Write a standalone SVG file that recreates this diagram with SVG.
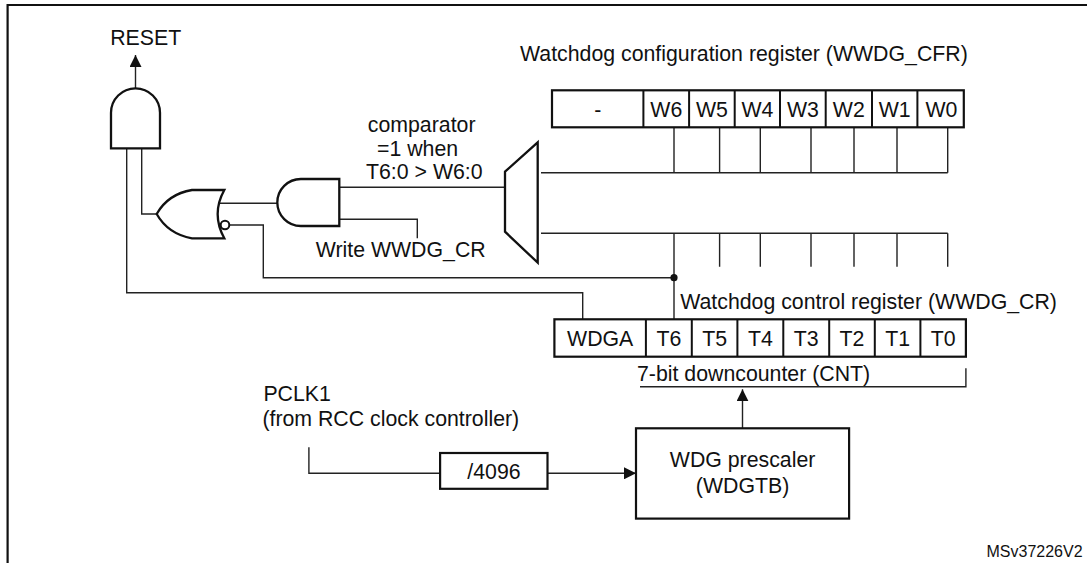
<svg xmlns="http://www.w3.org/2000/svg" width="1087" height="563" viewBox="0 0 1087 563">
<defs>
<style>
text{font-family:"Liberation Sans",Arial,sans-serif;font-size:21.3px;fill:#111}
.c{text-anchor:middle}
.gate{fill:#fff;stroke:#111;stroke-width:2.3}
.reg{fill:#fff;stroke:#111;stroke-width:2.2}
.div{stroke:#111;stroke-width:2}
.w{fill:none;stroke:#222;stroke-width:1.4}
.frame{fill:none;stroke:#111;stroke-width:2.2}
</style>
<marker id="ah" viewBox="0 0 12 12" refX="12" refY="6" markerWidth="12" markerHeight="12" markerUnits="userSpaceOnUse" orient="auto">
<path d="M0,0 L12,6 L0,12 Z" fill="#111"/>
</marker>
</defs>
<rect width="1087" height="563" fill="#fff"/>
<path class="frame" d="M7.6,563 V5 H1087"/>

<g id="connectors">
<path class="w" d="M135.5,88.3 V55" marker-end="url(#ah)"/>
<path class="w" d="M126.7,148.3 V292.7 H582.7 V319.3"/>
<path class="w" d="M141.7,148.3 V214 H156.7"/>
<path class="w" d="M219,203.3 H277.5"/>
<path class="w" d="M229.3,225 H263.3 V277.7 H674"/>
<path class="w" d="M339.3,187.3 H505"/>
<path class="w" d="M339.3,219.3 H417.3 V238.3"/>
<path class="w" d="M541,172.7 H947.7 M674,127.3 V172.7 M719.6,127.3 V172.7 M760.3,127.3 V172.7 M811,127.3 V172.7 M854,127.3 V172.7 M897,127.3 V172.7 M947.7,127.3 V172.7"/>
<path class="w" d="M541,233.3 H947.7 M674,233.3 V319.3 M719.6,233.3 V266.7 M760.3,233.3 V266.7 M811,233.3 V266.7 M854,233.3 V266.7 M897,233.3 V266.7 M947.7,233.3 V266.7"/>
<circle cx="674" cy="277.7" r="3.6" fill="#111"/>
<path class="w" d="M640,386.7 H965.9 V368.3"/>
<path class="w" d="M742.5,428.3 V389.3" marker-end="url(#ah)"/>
<path class="w" d="M308.9,447.3 V473.3 H440.1"/>
<path class="w" d="M547.5,473.3 H636" marker-end="url(#ah)"/>
</g>

<g id="reset-label">
<text x="110.2" y="45">RESET</text>
</g>

<g id="and-reset">
<path class="gate" d="M111,148.3 V112.8 A24.5,24.5 0 0 1 160,112.8 V148.3 Z"/>
</g>

<g id="or-gate">
<path class="gate" d="M224.3,190 L192,190 Q168,194 156.7,214 Q168,234 192,238.3 L224.3,238.3 Q211,214 224.3,190 Z"/>
<circle cx="225" cy="225" r="4.3" fill="#fff" stroke="#111" stroke-width="2"/>
</g>

<g id="and-compare">
<path class="gate" d="M339.3,179 H300.8 A23.5,23.5 0 0 0 300.8,226 H339.3 Z"/>
</g>

<g id="comparator">
<polygon class="gate" points="505,171.7 537.7,142.3 537.7,262.7 505,231.7"/>
<text x="367.8" y="132">comparator</text>
<text x="377" y="155.5">=1 when</text>
<text x="366" y="178.5">T6:0 &gt; W6:0</text>
</g>

<g id="write-label">
<text x="315.7" y="256.5">Write WWDG_CR</text>
</g>

<g id="wwdg-cfr">
<text x="520" y="60.5">Watchdog configuration register (WWDG_CFR)</text>
<rect class="reg" x="552" y="90.3" width="411.8" height="37"/>
<path class="div" d="M643.4,90.3 V127.3 M689.1,90.3 V127.3 M734.7,90.3 V127.3 M780,90.3 V127.3 M825.7,90.3 V127.3 M872,90.3 V127.3 M917.4,90.3 V127.3"/>
<text class="c" x="597.7" y="116.5">-</text>
<text class="c" x="666.3" y="116.5">W6</text>
<text class="c" x="711.9" y="116.5">W5</text>
<text class="c" x="757.4" y="116.5">W4</text>
<text class="c" x="802.9" y="116.5">W3</text>
<text class="c" x="848.8" y="116.5">W2</text>
<text class="c" x="894.7" y="116.5">W1</text>
<text class="c" x="941.5" y="116.5">W0</text>
</g>

<g id="wwdg-cr">
<text x="680.2" y="309">Watchdog control register (WWDG_CR)</text>
<rect class="reg" x="554.4" y="319.3" width="411.5" height="37.4"/>
<path class="div" d="M645.9,319.3 V356.7 M691.8,319.3 V356.7 M737.4,319.3 V356.7 M783.3,319.3 V356.7 M829.2,319.3 V356.7 M874.8,319.3 V356.7 M920.4,319.3 V356.7"/>
<text class="c" x="600.2" y="345.5">WDGA</text>
<text class="c" x="668.9" y="345.5">T6</text>
<text class="c" x="714.6" y="345.5">T5</text>
<text class="c" x="760.4" y="345.5">T4</text>
<text class="c" x="806.3" y="345.5">T3</text>
<text class="c" x="852" y="345.5">T2</text>
<text class="c" x="897.6" y="345.5">T1</text>
<text class="c" x="943.2" y="345.5">T0</text>
<text x="637" y="380.5">7-bit downcounter (CNT)</text>
</g>

<g id="pclk1">
<text x="263.4" y="400.5">PCLK1</text>
<text x="262.4" y="425.5">(from RCC clock controller)</text>
</g>

<g id="div4096">
<rect class="reg" x="440.1" y="453" width="107.4" height="35.8"/>
<text class="c" x="494" y="479">/4096</text>
</g>

<g id="prescaler">
<rect class="reg" x="636" y="428.3" width="213.1" height="90.3"/>
<text class="c" x="742.6" y="466.7">WDG prescaler</text>
<text class="c" x="742.6" y="492.5">(WDGTB)</text>
</g>

<g id="ref">
<text x="986.5" y="556.5" style="font-size:16px">MSv37226V2</text>
</g>
</svg>
